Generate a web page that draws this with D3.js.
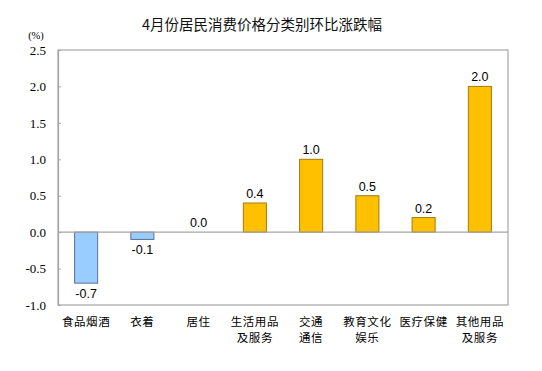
<!DOCTYPE html>
<html>
<head>
<meta charset="utf-8">
<script src="https://cdn.jsdelivr.net/npm/d3@7"></script>
<style>
  body { margin: 0; background: #fff; }
  svg { display: block; }
</style>
</head>
<body>
<div id="container"></div>
<script>
const categories = ["食品烟酒", "衣着", "居住", "生活用品\n及服务", "交通\n通信", "教育文化\n娱乐", "医疗保健", "其他用品\n及服务"];
const values = [-0.7, -0.1, 0.0, 0.4, 1.0, 0.5, 0.2, 2.0];
const yTicks = [-1.0, -0.5, 0.0, 0.5, 1.0, 1.5, 2.0, 2.5];
const title = "4月份居民消费价格分类别环比涨跌幅";

const w = 542, h = 371;
const m = { top: 50, right: 34, bottom: 66, left: 58 };

const svg = d3.select("#container").append("svg")
  .attr("width", w).attr("height", h);

const x = d3.scaleBand()
  .domain(categories)
  .range([m.left, w - m.right])
  .paddingInner(0.59)
  .paddingOuter(0.295);

const y = d3.scaleLinear()
  .domain([-1.0, 2.5])
  .range([h - m.bottom, m.top]);

// title
svg.append("text")
  .attr("x", 262).attr("y", 30)
  .attr("text-anchor", "middle")
  .style("font-family", "'Noto Sans CJK SC', sans-serif")
  .style("font-size", "14.5px")
  .attr("fill", "#111")
  .text(title);

// unit
svg.append("text")
  .attr("x", 36).attr("y", 39)
  .attr("text-anchor", "middle")
  .style("font-family", "'Liberation Serif', serif")
  .style("font-size", "10.5px")
  .text("(%)");

// plot frame
svg.append("rect")
  .attr("x", m.left).attr("y", m.top)
  .attr("width", w - m.left - m.right)
  .attr("height", h - m.top - m.bottom)
  .attr("fill", "none")
  .attr("stroke", "#a6a6a6")
  .attr("stroke-width", 1.2);

// y axis
const yAxis = d3.axisLeft(y)
  .tickValues(yTicks)
  .tickSize(-3)
  .tickPadding(12)
  .tickFormat(d => d3.format(".1f")(d).replace("−", "-"));

const gy = svg.append("g")
  .attr("transform", `translate(${m.left},0)`)
  .call(yAxis);
gy.select(".domain").attr("stroke", "#a6a6a6").attr("stroke-width", 1.2);
gy.selectAll(".tick line").attr("stroke", "#a6a6a6");
gy.selectAll(".tick text")
  .style("font-family", "'Liberation Serif', 'Times New Roman', serif")
  .style("font-size", "13px")
  .attr("fill", "#000");

// bars
svg.append("g").selectAll("rect")
  .data(values)
  .enter()
  .append("rect")
  .attr("x", (d, i) => x(categories[i]))
  .attr("y", d => y(Math.max(0, d)))
  .attr("width", x.bandwidth())
  .attr("height", d => Math.abs(y(d) - y(0)))
  .attr("fill", d => d < 0 ? "#99ccff" : "#ffc000")
  .attr("stroke", d => d < 0 ? "#5b7290" : "#a07c10")
  .attr("stroke-width", 1);

// zero line
svg.append("line")
  .attr("x1", m.left).attr("x2", w - m.right)
  .attr("y1", y(0)).attr("y2", y(0))
  .attr("stroke", "#a6a6a6")
  .attr("stroke-width", 1.2);

// value labels
svg.append("g").selectAll("text")
  .data(values)
  .enter()
  .append("text")
  .attr("x", (d, i) => x(categories[i]) + x.bandwidth() / 2)
  .attr("y", d => d < 0 ? y(d) + 15 : y(d) - 5)
  .attr("text-anchor", "middle")
  .style("font-family", "'Liberation Sans', Arial, sans-serif")
  .style("font-size", "12.5px")
  .attr("fill", "#000")
  .text(d => d.toFixed(1));

// category labels
const cat = svg.append("g").selectAll("text")
  .data(categories)
  .enter()
  .append("text")
  .attr("x", d => x(d) + x.bandwidth() / 2)
  .attr("y", 326)
  .attr("text-anchor", "middle")
  .style("font-family", "'Noto Sans CJK SC', sans-serif")
  .style("font-size", "11.5px")
  .style("letter-spacing", "0.6px")
  .attr("fill", "#000");

cat.selectAll("tspan")
  .data(d => d.split("\n"))
  .enter()
  .append("tspan")
  .attr("x", function () { return d3.select(this.parentNode).attr("x"); })
  .attr("dy", (d, i) => i === 0 ? 0 : 16)
  .text(d => d);
</script>
</body>
</html>
